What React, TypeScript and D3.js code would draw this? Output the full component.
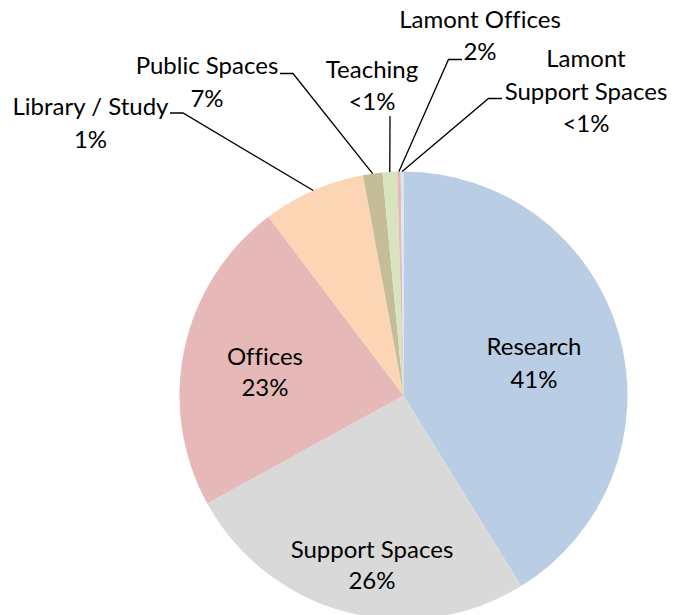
import React from "react";
import * as d3 from "d3";

const categories = [
  "Research",
  "Support Spaces",
  "Offices",
  "Library / Study",
  "Public Spaces",
  "Teaching",
  "Lamont Offices",
  "Lamont Support Spaces",
];
const values = [41.2, 25.8, 22.7, 7.4, 1.4, 1.05, 0.25, 0.2];
const pctLabels = ["41%", "26%", "23%", "1%", "7%", "<1%", "2%", "<1%"];
const nameLines = [
  ["Research"],
  ["Support Spaces"],
  ["Offices"],
  ["Library / Study"],
  ["Public Spaces"],
  ["Teaching"],
  ["Lamont Offices"],
  ["Lamont", "Support Spaces"],
];
const colors = ["#B9CDE5", "#D9D9D9", "#E6B9B8", "#FCD5B5", "#C4BD97", "#D7E4BD", "#E6B9B8", "#DCE6F2"];

// layout: label anchor (center x, first baseline), optional leader stub start/elbow
const labelLayout = [
  { x: 534, y: 355, lh: 33 },
  { x: 372, y: 558, lh: 31 },
  { x: 265, y: 365, lh: 31 },
  { x: 90.5, y: 115, lh: 33, leader: [[170, 113], [183, 113]] },
  { x: 207, y: 74, lh: 33, leader: [[280, 73.5], [293, 73.5]] },
  { x: 372, y: 78, lh: 32, leader: [[390, 116]] },
  { x: 480, y: 28, lh: 32, leader: [[462, 59.5], [448.5, 59.5]] },
  { x: 586, y: 67, lh: 32.5, leader: [[502, 98.5], [488.5, 98.5]] },
];

const W = 673;
const H = 615;
const cx = 403.5;
const cy = 395.5;
const R = 224;

export default function App() {
  const pie = d3
    .pie<number>()
    .sort(null)
    .value((d) => d)
    .startAngle(0)
    .endAngle(2 * Math.PI);
  const arcs = pie(values);
  const arc = d3.arc<d3.PieArcDatum<number>>().innerRadius(0).outerRadius(R);
  const edge = d3.arc<d3.PieArcDatum<number>>().innerRadius(R).outerRadius(R);
  const line = d3.line();

  return (
    <svg
      width={W}
      height={H}
      style={{ position: "absolute", left: 0, top: 0, background: "#fff", fontVariantLigatures: "none" }}
      fontFamily="Lato, 'Open Sans', sans-serif"
    >
      <rect width={W} height={H} fill="#fff" />
      <g transform={`translate(${cx},${cy})`}>
        {arcs.map((a, i) => (
          <path key={categories[i]} d={arc(a) || ""} fill={colors[i]} />
        ))}
      </g>
      {arcs.map((a, i) => {
        const L = labelLayout[i];
        if (!L.leader) return null;
        const [mx, my] = edge.centroid(a);
        const pts = [...L.leader, [cx + mx, cy + my]] as [number, number][];
        return (
          <path key={"l" + i} d={line(pts) || ""} fill="none" stroke="#000" strokeWidth={1.3} />
        );
      })}
      {categories.map((c, i) => {
        const L = labelLayout[i];
        const lines = [...nameLines[i], pctLabels[i]];
        return (
          <text key={"t" + c} x={L.x} y={L.y} textAnchor="middle" fontSize={24} fill="#000">
            {lines.map((s, j) => (
              <tspan key={j} x={L.x} y={L.y + j * L.lh}>
                {s}
              </tspan>
            ))}
          </text>
        );
      })}
    </svg>
  );
}
